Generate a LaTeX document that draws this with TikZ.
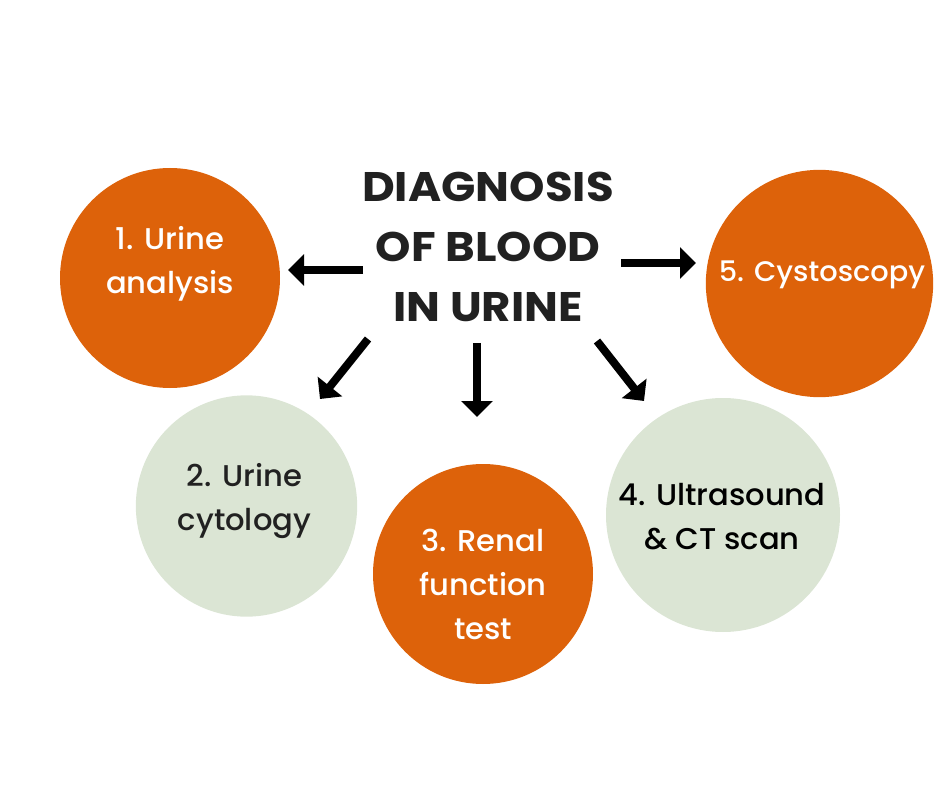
\documentclass[tikz,border=0pt]{standalone}
\usepackage{fontspec}
\setmainfont{Poppins}
\newfontfamily\labelfont[FakeStretch=1.02]{Poppins Medium}
\newfontfamily\titlefont[FakeStretch=1.09]{Poppins}
\usetikzlibrary{arrows.meta}
\definecolor{burnt}{RGB}{221,98,10}
\definecolor{sage}{RGB}{219,229,212}
\definecolor{inkdark}{RGB}{33,33,33}
\tikzset{
  hot/.style={circle,fill=burnt,inner sep=0pt},
  pale/.style={circle,fill=sage,inner sep=0pt},
  lbl/.style={font=\labelfont\fontsize{22.5}{33}\selectfont,align=center},
  thick arrow/.style={line width=6pt,-{Triangle[length=12pt,width=23pt]}},
}
\begin{document}
\begin{tikzpicture}[x=0.75pt,y=0.75pt,yscale=-1,xscale=1]
\useasboundingbox (0,0) rectangle (940,788);

% Circles
\node (urine) [hot,minimum size=165pt] at (170,278) {};
\node (cyst) [hot,minimum size=170.5pt] at (819.5,283.5) {};
\node (cyto) [pale,minimum size=166pt] at (246.5,506) {};
\node (renal) [hot,minimum size=165pt] at (483,574) {};
\node (ultra) [pale,minimum size=175.5pt] at (723,515) {};

% Text Node
\node (ltxt) [lbl,text=white] at (170,264) {1. Urine\\analysis};
\node (ctxt) [lbl,text=white,font=\labelfont\fontsize{21.2}{33}\selectfont] at (822,275) {5. Cystoscopy};
\node (ytxt) [lbl,text=inkdark] at (244.5,501) {2. Urine\\cytology};
\node (rtxt) [lbl,text=white] at (483,584) {3. Renal\\function\\test};
\node (utxt) [lbl,text=black] at (722,517) {4. Ultrasound\\\& CT scan};
\node (title) [text=inkdark,font=\titlefont\bfseries\fontsize{31}{45}\selectfont,align=center] at (488,247) {DIAGNOSIS\\OF BLOOD\\IN URINE};

% Arrows
\coordinate (a1) at (363,270);
\coordinate (b1) at (288,270);
\coordinate (a2) at (368,339);
\coordinate (b2) at (320,399);
\coordinate (a3) at (477,343);
\coordinate (b3) at (477,417);
\coordinate (a4) at (597,341);
\coordinate (b4) at (644,401);
\coordinate (a5) at (621,263);
\coordinate (b5) at (696,263);
\draw [thick arrow] (a1) -- (b1);
\draw [thick arrow] (a2) -- (b2);
\draw [thick arrow] (a3) -- (b3);
\draw [thick arrow] (a4) -- (b4);
\draw [thick arrow] (a5) -- (b5);
\end{tikzpicture}
\end{document}
